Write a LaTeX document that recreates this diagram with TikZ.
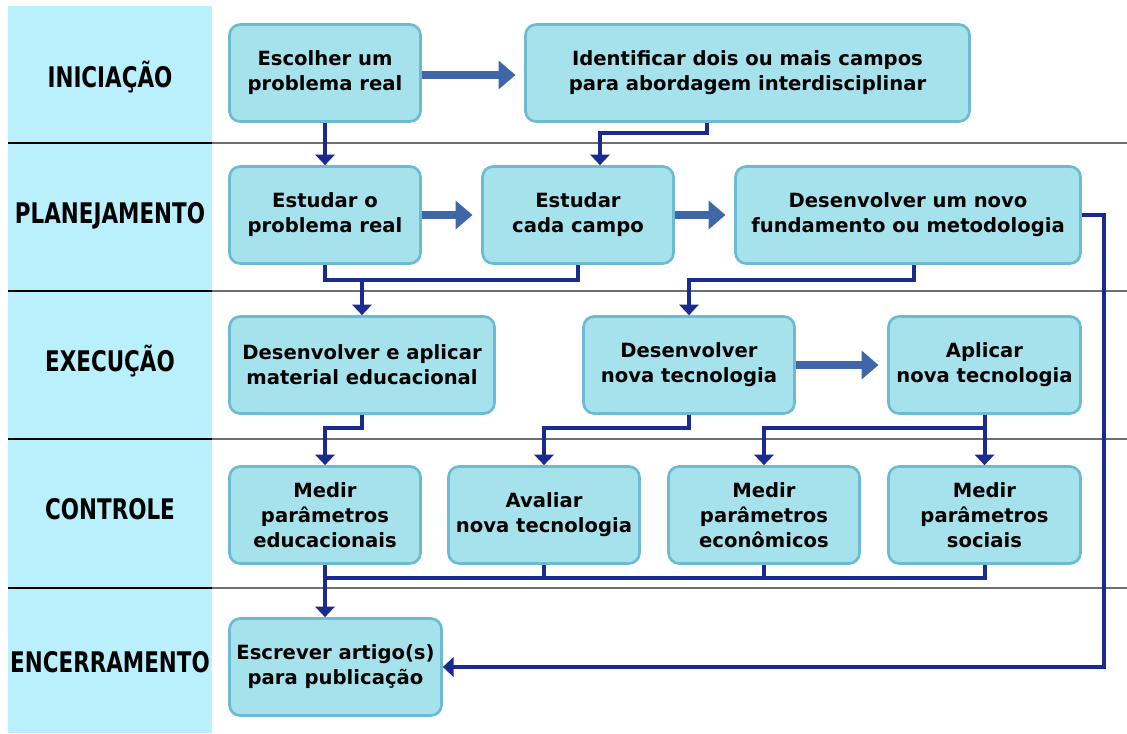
\documentclass[tikz,border=0pt]{standalone}
\usepackage{fontspec}
\usepackage{graphicx}
\setmainfont{DejaVu Sans}
\newfontfamily\lblfont{DejaVu Sans Condensed}
\usetikzlibrary{arrows.meta,calc}

\definecolor{bandcol}{HTML}{BAEFFC}
\definecolor{boxfill}{HTML}{A6E2EB}
\definecolor{boxline}{HTML}{6DBBD3}
\definecolor{fatblue}{HTML}{3F67A8}
\definecolor{thinblue}{HTML}{1B2A8F}
\definecolor{sepgray}{HTML}{6E6E6E}

% process box given by its corner coordinates (in px units)
\newcommand{\pbox}[6]{%
  \node[procbox, minimum width={(#4-#2-3)*0.75pt}, minimum height={(#5-#3-3)*0.75pt}]
    (#1) at ({(#2+#4)/2},{(#3+#5)/2}) {#6};}

\tikzset{
  procbox/.style={draw=boxline, fill=boxfill, line width=2pt, rounded corners=8pt,
    align=center, inner sep=0pt,
    font=\bfseries\fontsize{14.7}{18.75}\selectfont},
  phaselbl/.style={anchor=base, inner sep=0pt,
    font=\lblfont\bfseries\fontsize{21.3}{24}\selectfont},
  fatarrow/.style={draw=fatblue, line width=6.5pt, shorten >=6.5pt,
    -{Triangle[length=12.75pt,width=21pt]}},
  connline/.style={draw=thinblue, line width=3pt, line join=miter},
  conn/.style={connline, -{Triangle[length=8pt,width=14.5pt]}},
  sepline/.style={draw=sepgray, line width=1.9pt},
  sepdark/.style={draw=black, line width=1.9pt}
}

\newcommand{\lbltext}[1]{\scalebox{0.84}[1]{#1}}

\begin{document}
\begin{tikzpicture}[x=0.75pt,y=-0.75pt]
\useasboundingbox (0,0) rectangle (1127,733);

% phase column
\fill[bandcol] (8,6) rectangle (212,733);

% phase separators
\foreach \yy in {143,291,439,588} {
  \draw[sepline] (212,\yy) -- (1127,\yy);
  \draw[sepdark] (8,\yy) -- (212,\yy);
}

% phase names
\node[phaselbl] (pInic) at (110,87)  {\lbltext{INICIAÇÃO}};
\node[phaselbl] (pPlan) at (110,223) {\lbltext{PLANEJAMENTO}};
\node[phaselbl] (pExec) at (110,371) {\lbltext{EXECUÇÃO}};
\node[phaselbl] (pCtrl) at (110,519) {\lbltext{CONTROLE}};
\node[phaselbl] (pEnc)  at (110,672) {\lbltext{ENCERRAMENTO}};

% Iniciação
\pbox{escolher}{228}{23}{422}{123}{Escolher um\\problema real}
\pbox{ident}{524}{23}{971}{123}{Identificar dois ou mais campos\\para abordagem interdisciplinar}

% Planejamento
\pbox{estprob}{228}{165}{422}{265}{Estudar o\\problema real}
\pbox{cada}{481}{165}{675}{265}{Estudar\\cada campo}
\pbox{desnovo}{734}{165}{1082}{265}{Desenvolver um novo\\fundamento ou metodologia}

% Execução
\pbox{desapl}{228}{315}{496}{415}{Desenvolver e aplicar\\material educacional}
\pbox{desnt}{582}{315}{796}{415}{Desenvolver\\nova tecnologia}
\pbox{aplic}{887}{315}{1082}{415}{Aplicar\\nova tecnologia}

% Controle
\pbox{medu}{228}{465}{422}{565}{Medir\\parâmetros\\educacionais}
\pbox{aval}{447}{465}{641}{565}{Avaliar\\nova tecnologia}
\pbox{meco}{667}{465}{861}{565}{Medir\\parâmetros\\econômicos}
\pbox{msoc}{887}{465}{1082}{565}{Medir\\parâmetros\\sociais}

% Encerramento
\pbox{escrever}{228}{617}{443}{717}{Escrever artigo(s)\\para publicação}

% wide arrows within a phase
\draw[fatarrow] ([yshift=-1.5pt]escolher.east) -- ([yshift=-1.5pt]ident.west |- escolher.east);
\draw[fatarrow] (estprob.east) -- (cada.west);
\draw[fatarrow] (cada.east) -- (desnovo.west);
\draw[fatarrow] (desnt.east) -- (aplic.west);

% Iniciação -> Planejamento
\draw[conn] (escolher.south) -- (estprob.north);
\draw[conn] (ident.south -| 707,0) -- (707,133) -| (cada.north -| 600,0);

% Planejamento -> Execução
\coordinate (jA) at (362,280);
\draw[connline] (estprob.south) -- (estprob.south |- jA) -| (cada.south);
\draw[conn] (jA) -- (desapl.north);
\draw[conn] (desnovo.south -| 914,0) -- (914,280) -| (desnt.north);

% shortcut to Encerramento
\coordinate (jR) at (1104,667);
\draw[conn] (desnovo.east) -| (jR) -- (escrever.east |- jR);

% Execução -> Controle
\draw[conn] (desapl.south) -- (362,428) -| (medu.north);
\draw[conn] (desnt.south) -- (689,428) -| (aval.north);
\coordinate (jB) at (984.5,428);
\draw[conn] (aplic.south) -- (jB) -| (meco.north);
\draw[conn] (jB) -- (msoc.north);

% Controle -> Encerramento
\coordinate (jC) at (325,578);
\draw[connline] (jC) -| (msoc.south);
\draw[connline] (medu.south) -- (jC);
\draw[connline] (aval.south) -- (aval.south |- jC);
\draw[connline] (meco.south) -- (meco.south |- jC);
\draw[conn] (jC) -- (jC |- escrever.north);
\end{tikzpicture}
\end{document}
